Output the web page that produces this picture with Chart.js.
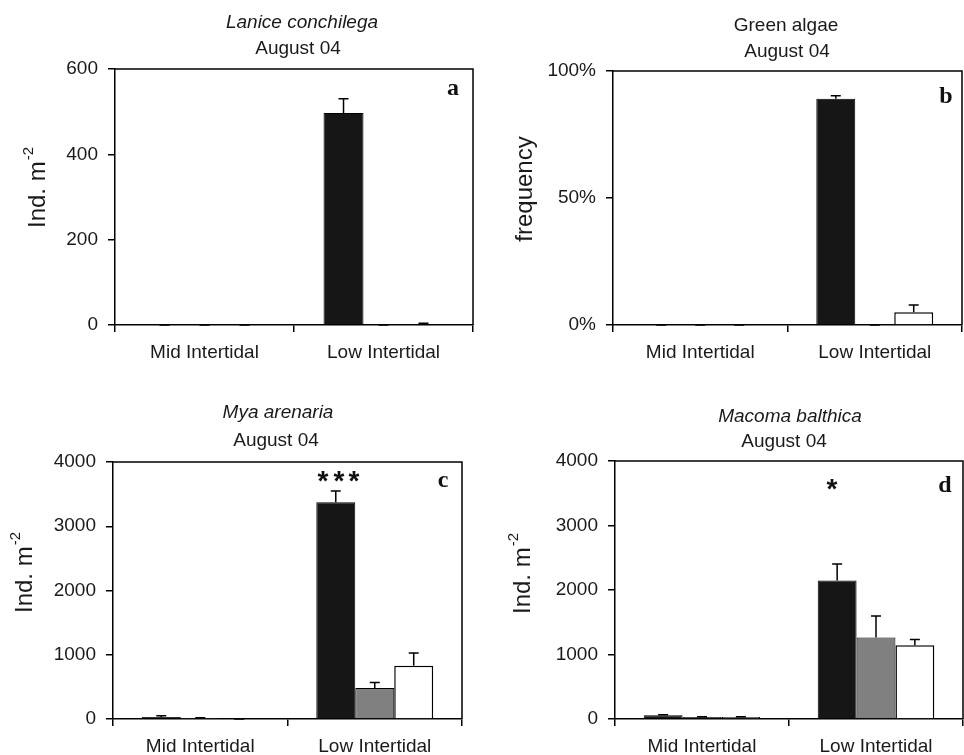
<!DOCTYPE html>
<html>
<head>
<meta charset="utf-8">
<script src="https://cdn.jsdelivr.net/npm/chart.js@4/dist/chart.umd.min.js"></script>
<style>
  html, body { margin: 0; padding: 0; background: #fff; }
  #wrap { position: relative; width: 964px; height: 755px; overflow: hidden; }
  .pane { position: absolute; }
</style>
</head>
<body>
<div id="wrap">
  <div class="pane" style="left:0;top:0;width:482px;height:377px"><canvas id="ca"></canvas></div>
  <div class="pane" style="left:482px;top:0;width:482px;height:377px"><canvas id="cb"></canvas></div>
  <div class="pane" style="left:0;top:377px;width:482px;height:378px"><canvas id="cc"></canvas></div>
  <div class="pane" style="left:482px;top:377px;width:482px;height:378px"><canvas id="cd"></canvas></div>
</div>
<script>
// ---------- data ----------
const categories = ['Mid Intertidal', 'Low Intertidal'];

// Panel a: Lanice conchilega (Ind. m-2)
const aBlack = [0, 497];   const aBlackErr = [0, 33];
const aGray  = [0, 0];     const aGrayErr  = [0, 0];
const aWhite = [0, 2];     const aWhiteErr = [0, 2];
const aTicks = [0, 200, 400, 600];

// Panel b: Green algae (frequency, %)
const bBlack = [0, 89.1];  const bBlackErr = [0, 1.2];
const bGray  = [0, 0];     const bGrayErr  = [0, 0];
const bWhite = [0, 5.0];   const bWhiteErr = [0, 2.9];
const bTicks = [0, 50, 100];

// Panel c: Mya arenaria (Ind. m-2)
const cBlack = [30, 3375]; const cBlackErr = [20, 172];
const cGray  = [5, 482];   const cGrayErr  = [15, 86];
const cWhite = [0, 828];   const cWhiteErr = [0, 198];
const cTicks = [0, 1000, 2000, 3000, 4000];

// Panel d: Macoma balthica (Ind. m-2)
const dBlack = [60, 2148]; const dBlackErr = [5, 256];
const dGray  = [30, 1262]; const dGrayErr  = [3, 336];
const dWhite = [30, 1143]; const dWhiteErr = [3, 88];
const dTicks = [0, 1000, 2000, 3000, 4000];

// ---------- drawing helpers ----------
const SANS = '"Liberation Sans", Arial, sans-serif';
const SERIF = '"Liberation Serif", "Times New Roman", serif';

const decoPlugin = {
  id: 'deco',
  afterDatasetsDraw(chart, args, opts) {
    const ctx = chart.ctx;
    const yScale = chart.scales.y;
    // error bars (upper only)
    ctx.save();
    ctx.strokeStyle = '#000';
    ctx.lineWidth = 1.5;
    chart.data.datasets.forEach((ds, i) => {
      const meta = chart.getDatasetMeta(i);
      meta.data.forEach((el, j) => {
        const v = ds.data[j];
        const e = ds.errors[j];
        const top = yScale.getPixelForValue(v + e);
        const yb = el.y;
        ctx.beginPath();
        ctx.moveTo(el.x, yb);
        ctx.lineTo(el.x, top);
        ctx.moveTo(el.x - 5, top);
        ctx.lineTo(el.x + 5, top);
        ctx.stroke();
      });
    });
    ctx.restore();
  },
  afterDraw(chart, args, opts) {
    const ctx = chart.ctx;
    const ca = chart.chartArea;
    ctx.save();
    // frame
    ctx.strokeStyle = '#000';
    ctx.lineWidth = 1.5;
    ctx.beginPath();
    ctx.moveTo(ca.left, ca.top);
    ctx.lineTo(ca.right, ca.top);
    ctx.lineTo(ca.right, ca.bottom);
    ctx.stroke();
    // titles
    ctx.fillStyle = '#1a1a1a';
    ctx.textAlign = 'center';
    ctx.textBaseline = 'middle';
    ctx.font = (opts.italic ? 'italic ' : '') + '19px ' + SANS;
    ctx.fillText(opts.title1, opts.t1[0], opts.t1[1]);
    ctx.font = '19px ' + SANS;
    ctx.fillText(opts.title2, opts.t2[0], opts.t2[1]);
    // panel letter
    ctx.font = 'bold 24px ' + SERIF;
    ctx.textBaseline = 'alphabetic';
    ctx.fillStyle = '#111';
    ctx.fillText(opts.letter, opts.lp[0], opts.lp[1]);
    // stars
    if (opts.stars) {
      ctx.font = 'bold 28px ' + SANS;
      opts.stars.forEach(s => ctx.fillText('*', s[0], s[1]));
    }
    // y title
    ctx.translate(opts.yt[0], opts.yt[1]);
    ctx.rotate(-Math.PI / 2);
    ctx.fillStyle = '#1a1a1a';
    ctx.textBaseline = 'middle';
    ctx.textAlign = 'left';
    const mainFont = '24px ' + SANS;
    const supFont = '15px ' + SANS;
    ctx.font = mainFont;
    const w1 = ctx.measureText(opts.ytitle).width;
    let w2 = 0;
    if (opts.ysup) { ctx.font = supFont; w2 = ctx.measureText(opts.ysup).width; }
    const x0 = -(w1 + w2) / 2;
    ctx.font = mainFont;
    ctx.fillText(opts.ytitle, x0, 0);
    if (opts.ysup) {
      ctx.font = supFont;
      ctx.fillText(opts.ysup, x0 + w1 + 1, -9);
    }
    ctx.restore();
  }
};

function makeChart(id, black, blackErr, gray, grayErr, white, whiteErr, ticks, pct, deco, box) {
  const yMax = ticks[ticks.length - 1];
  const yStep = ticks[1] - ticks[0];
  return new Chart(document.getElementById(id), {
    type: 'bar',
    data: {
      labels: categories,
      datasets: [
        { label: 'black', data: black, errors: blackErr, backgroundColor: '#161616', borderColor: '#000', borderWidth: 1 },
        { label: 'grey', data: gray, errors: grayErr, backgroundColor: '#808080', borderColor: '#000', borderWidth: 1 },
        { label: 'white', data: white, errors: whiteErr, backgroundColor: '#ffffff', borderColor: '#000', borderWidth: 1.5 }
      ]
    },
    options: {
      responsive: true,
      maintainAspectRatio: false,
      animation: false,
      events: [],
      layout: { padding: { left: 0, right: box.padRight, top: box.padTop, bottom: 0 } },
      datasets: { bar: { categoryPercentage: 0.67, barPercentage: 1.0 } },
      plugins: {
        legend: { display: false },
        title: { display: false },
        tooltip: { enabled: false },
        deco: deco
      },
      scales: {
        x: {
          grid: { display: true, offset: true, drawOnChartArea: false, drawTicks: true, tickLength: 7, color: '#000', lineWidth: 1.5 },
          border: { display: true, color: '#000', width: 1.5 },
          ticks: { color: '#1a1a1a', font: { family: SANS, size: 19 }, padding: 9, maxRotation: 0 },
          afterFit(scale) { scale.height = box.xHeight; }
        },
        y: {
          min: 0, max: yMax,
          grid: { display: true, drawOnChartArea: false, drawTicks: true, tickLength: 7, color: '#000', lineWidth: 1.5 },
          border: { display: true, color: '#000', width: 1.5 },
          ticks: {
            stepSize: yStep,
            color: '#1a1a1a',
            font: { family: SANS, size: 19 },
            padding: 10,
            callback: v => pct ? v + '%' : v
          },
          afterFit(scale) { scale.width = box.yWidth; }
        }
      }
    },
    plugins: [decoPlugin]
  });
}

makeChart('ca', aBlack, aBlackErr, aGray, aGrayErr, aWhite, aWhiteErr, aTicks, false,
  { title1: 'Lanice conchilega', italic: true, title2: 'August 04', t1: [302, 23], t2: [298, 49],
    letter: 'a', lp: [453, 95], ytitle: 'Ind. m', ysup: '-2', yt: [38, 188] },
  { padRight: 9, padTop: 69, xHeight: 52, yWidth: 115 });

makeChart('cb', bBlack, bBlackErr, bGray, bGrayErr, bWhite, bWhiteErr, bTicks, true,
  { title1: 'Green algae', italic: false, title2: 'August 04', t1: [304, 26], t2: [305, 52],
    letter: 'b', lp: [464, 103], ytitle: 'frequency', ysup: '', yt: [43, 189] },
  { padRight: 2, padTop: 71, xHeight: 52, yWidth: 131 });

makeChart('cc', cBlack, cBlackErr, cGray, cGrayErr, cWhite, cWhiteErr, cTicks, false,
  { title1: 'Mya arenaria', italic: true, title2: 'August 04', t1: [278, 36], t2: [276, 64],
    letter: 'c', lp: [443, 110], ytitle: 'Ind. m', ysup: '-2', yt: [25, 196],
    stars: [[323, 113], [339, 113], [354, 113]] },
  { padRight: 20, padTop: 85, xHeight: 36, yWidth: 113 });

makeChart('cd', dBlack, dBlackErr, dGray, dGrayErr, dWhite, dWhiteErr, dTicks, false,
  { title1: 'Macoma balthica', italic: true, title2: 'August 04', t1: [308, 40], t2: [302, 65],
    letter: 'd', lp: [463, 115], ytitle: 'Ind. m', ysup: '-2', yt: [41, 197],
    stars: [[350, 121]] },
  { padRight: 1, padTop: 84, xHeight: 36, yWidth: 133 });
</script>
</body>
</html>
